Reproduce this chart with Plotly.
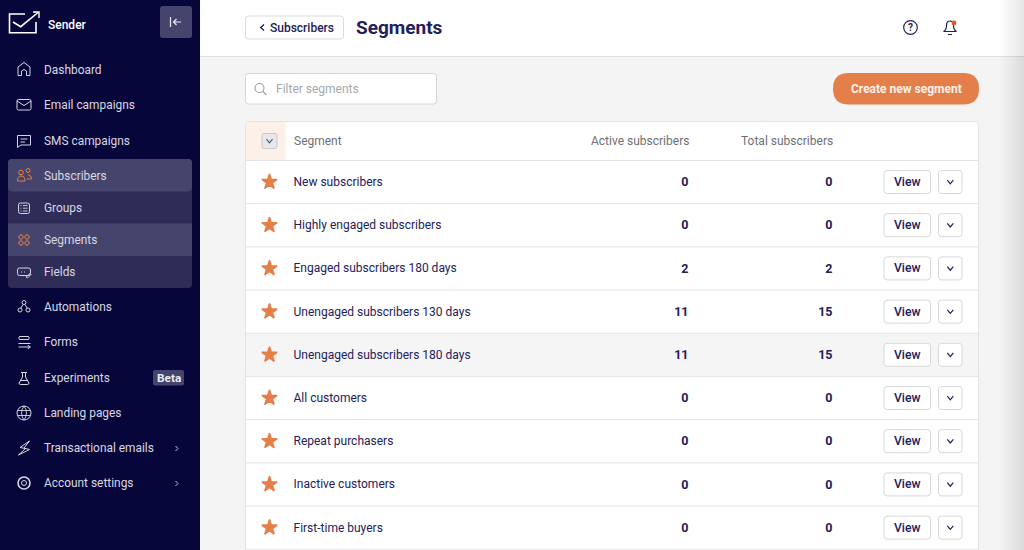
import plotly.graph_objects as go

# table data
segments = ["New subscribers", "Highly engaged subscribers", "Engaged subscribers 180 days",
            "Unengaged subscribers 130 days", "Unengaged subscribers 180 days", "All customers",
            "Repeat purchasers", "Inactive customers", "First-time buyers"]
active = [0, 0, 2, 11, 11, 0, 0, 0, 0]
total = [0, 0, 2, 15, 15, 0, 0, 0, 0]

# sidebar data
menu_labels = ["Dashboard", "Email campaigns", "SMS campaigns", "Subscribers", "Groups", "Segments",
               "Fields", "Automations", "Forms", "Experiments", "Landing pages",
               "Transactional emails", "Account settings"]
menu_y = [70, 105, 140.5, 175.5, 207.5, 239.5, 272, 307, 342, 377.5, 412.5, 448, 483]

NAVY = "#07063a"
INK = "#23215a"
ORANGE = "#e57f49"
FONT = "Roboto"

shapes = []
annotations = []


def rrect(x0, y0, x1, y1, r):
    return (f"M{x0+r},{y0} L{x1-r},{y0} Q{x1},{y0} {x1},{y0+r} L{x1},{y1-r} Q{x1},{y1} {x1-r},{y1} "
            f"L{x0+r},{y1} Q{x0},{y1} {x0},{y1-r} L{x0},{y0+r} Q{x0},{y0} {x0+r},{y0} Z")


def box(x0, y0, x1, y1, fill, line=None, r=0, lw=1):
    shapes.append(dict(type="path", path=rrect(x0, y0, x1, y1, r), fillcolor=fill,
                       line=dict(color=line or "rgba(0,0,0,0)", width=lw if line else 0)))


def stroke(path, color, lw=1.2, fill="rgba(0,0,0,0)"):
    shapes.append(dict(type="path", path=path, fillcolor=fill, line=dict(color=color, width=lw)))


def circle(cx, cy, r, color, lw=1.2, fill="rgba(0,0,0,0)"):
    shapes.append(dict(type="circle", x0=cx - r, x1=cx + r, y0=cy - r, y1=cy + r,
                       fillcolor=fill, line=dict(color=color, width=lw)))


def label(x, y, text, size=12, color=INK, anchor="left", weight=400):
    annotations.append(dict(x=x, y=y, text=text, showarrow=False, xanchor=anchor, yanchor="middle",
                            font=dict(family=FONT, size=size, color=color, weight=weight),
                            xref="x", yref="y", borderpad=0, borderwidth=0))


def chevron_down(cx, cy, color=INK, w=3.5):
    stroke(f"M{cx-w},{cy-1.8} L{cx},{cy+1.8} L{cx+w},{cy-1.8}", color, 1.2)


# page areas
box(0, 0, 1024, 550, "#f4f4f4")
box(200, 0, 1024, 56, "#ffffff")
shapes.append(dict(type="line", x0=200, x1=1024, y0=56.5, y1=56.5, line=dict(color="#e2e2e4", width=1)))
box(0, 0, 200, 550, NAVY)

# shade on the right edge
for k in range(12):
    box(1000 + k * 2, 0, 1024, 550, "rgba(0,0,0,0.008)")

# sidebar logo and collapse button
stroke("M25,14 L9.5,14 L9.5,32.7 L36,32.7 L36,22", "#ffffff", 1.6)
stroke("M13,22 L20.7,26.7 L38,12.5", "#ffffff", 1.6)
stroke("M33,12 L39,12 L39,18", "#ffffff", 1.4)
label(48, 24.5, "Sender", 12, "#ffffff", weight=500)
box(160, 6, 192, 38, "#45446c", None, 3)
stroke("M170.5,17 L170.5,27", "#e8e8ef", 1.2)
stroke("M181,22 L173.5,22 M176.5,19 L173.5,22 L176.5,25", "#e8e8ef", 1.2)

# sidebar selected group
box(8, 159, 192, 288, "#2f2d58", None, 4)
box(8, 159, 192, 191.5, "#45446c", None, 4)
box(8, 223.5, 192, 256, "#45446c")

# sidebar icons
MENU_ICON = "#d6d6e0"
stroke("M18,75.5 L18,67 L24,62.5 L30,67 L30,75.5 L26.5,75.5 L26.5,71 Q24,68 21.5,71 L21.5,75.5 Z", MENU_ICON, 1)
box(17, 99.5, 31, 110, "rgba(0,0,0,0)", MENU_ICON, 1.5)
stroke("M17,101 L24,105.5 L31,101", MENU_ICON, 1)
stroke("M17.5,135.5 L30.5,135.5 L30.5,145 L21,145 L17.5,147.5 Z M20.5,139 L27.5,139 M20.5,142 L25,142", MENU_ICON, 1)
circle(21, 172.5, 2.3, ORANGE, 1)
circle(28, 170.5, 2, ORANGE, 1)
stroke("M17.5,181 Q17.5,176 21,176 Q25,176 25,181 Z M28,174.5 Q31.5,175 31.5,179 L27,179", ORANGE, 1)
box(18.5, 203, 29.5, 213.5, "rgba(0,0,0,0)", MENU_ICON, 2)
stroke("M20.5,205.5 L21.5,205.5 M23,205.5 L27.5,205.5 M20.5,208.2 L21.5,208.2 M23,208.2 L27.5,208.2 M20.5,211 L21.5,211 M23,211 L27.5,211", MENU_ICON, 0.9)
for cx in (21, 27):
    for cy in (237, 243):
        circle(cx, cy, 2.2, ORANGE, 1)
box(17.5, 268, 30.5, 275.5, "rgba(0,0,0,0)", MENU_ICON, 2)
stroke("M21,272 L22,272 M24,272 L25,272 M26,277 L30,273.5 L31,274.5 L27.5,278 Z", MENU_ICON, 0.9)
circle(24, 302.5, 2, MENU_ICON, 1)
circle(20, 310, 2, MENU_ICON, 1)
circle(28, 310, 2, MENU_ICON, 1)
stroke("M23,304.5 L21,308 M25,304.5 L27,308", MENU_ICON, 1)
stroke("M19.5,336.5 L28.5,336.5 Q30,338 28.5,339.5 L19.5,339.5 Q18,338 19.5,336.5 M18.5,343.5 L30.5,343.5 M18.5,347 L27,347 M28,345.5 L30.5,347 L28,348.5 Z", MENU_ICON, 1)
stroke("M21,372.5 L27,372.5 M22.5,372.5 L22.5,377 L19,383 Q19,384.5 20.5,384.5 L27.5,384.5 Q29,384.5 29,383 L25.5,377 L25.5,372.5 M20.5,380.5 L27.5,380.5", MENU_ICON, 1)
circle(24, 413, 7, MENU_ICON, 1)
stroke("M24,406 Q19,413 24,420 Q29,413 24,406 M17.5,410.5 L30.5,410.5 M17.5,415.5 L30.5,415.5", MENU_ICON, 0.9)
stroke("M29.5,441 L20,447.5 L25.5,448.5 L18.5,455 L29.5,449.5 L24,448 Z", MENU_ICON, 1)
circle(24, 483, 2.5, MENU_ICON, 1)
circle(24, 483, 6, MENU_ICON, 1.6)

# sidebar texts
for name, y in zip(menu_labels, menu_y):
    label(44, y, name, 11.9, "#d8d8e2")
box(153, 370, 184, 385.5, "#45446c", None, 2)
label(168.5, 378, "Beta", 11.8, "#ededf3", "center", 700)
stroke("M175.5,446 L178,448.5 L175.5,451", "#c8c8d4", 1)
stroke("M175.5,481 L178,483.5 L175.5,486", "#c8c8d4", 1)

# page header
box(245.5, 16, 343.5, 39, "#ffffff", "#dcdcdf", 3)
stroke("M264,24.5 L260.7,27.5 L264,30.5", INK, 1.4)
label(269.5, 27.5, "Subscribers", 12, INK, weight=500)
label(356, 27.5, "Segments", 19, INK, weight=700)

circle(910.5, 27.5, 6.8, INK, 1.2)
label(910.5, 27.5, "?", 10, INK, "center", 700)
stroke("M943.5,31.5 Q946.5,30 946.5,25.5 Q946.5,21 950,21 Q953.5,21 953.5,25.5 Q953.5,30 956.5,31.5 Z M948,34.5 L952,34.5", INK, 1.2)
circle(954, 23, 2.4, "#ea4f3d", 0, "#ea4f3d")

# filter and create button
box(245.5, 73.5, 436.5, 104, "#ffffff", "#d6d6d9", 3)
circle(259.5, 88, 4.5, "#9a9aa0", 1.1)
stroke("M262.8,91.5 L266.5,95", "#9a9aa0", 1.1)
label(276, 88.5, "Filter segments", 12, "#a8a8ac")
box(833, 73, 979, 104.5, ORANGE, None, 15.7)
label(906, 88.5, "Create new segment", 12, "#fbf2ec", "center", 700)

# table frame and header
box(245.5, 121.5, 978.5, 560, "#ffffff", "#e4e4e6", 3)
box(246, 122, 285.5, 160, "#fcf0e9")
box(262, 133.5, 277, 148.5, "#e8e8ea", "#c8c8cc", 2)
chevron_down(269.5, 141, "#55556b", 3)
label(293.5, 140.5, "Segment", 12, "#6f6f75")
label(688.5, 140.5, "Active subscribers", 12, "#6f6f75", "right")
label(832.5, 140.5, "Total subscribers", 12, "#6f6f75", "right")
shapes.append(dict(type="line", x0=246, x1=978, y0=160.5, y1=160.5, line=dict(color="#e4e4e6", width=1)))

# rows
row_h = 43.2
row_y = [182 + i * row_h for i in range(len(segments))]
text_y = [y + 1 for y in row_y]
box(246, row_y[4] - row_h / 2, 978, row_y[4] + row_h / 2, "#f5f5f5")
for y in row_y:
    shapes.append(dict(type="line", x0=246, x1=978, y0=y + row_h / 2, y1=y + row_h / 2,
                       line=dict(color="#e4e4e6", width=1)))
    box(884, y - 11.5, 930.5, y + 11.5, "#ffffff", "#d8d8db", 3)
    box(938.5, y - 11.5, 962, y + 11.5, "#ffffff", "#d8d8db", 3)
    chevron_down(950.3, y, INK, 3)

fig = go.Figure()
# stars
fig.add_trace(go.Scatter(x=[269.5] * len(segments), y=row_y, mode="markers", hoverinfo="skip",
                         marker=dict(symbol="star", size=11.5, color=ORANGE, line=dict(width=1.5, color=ORANGE))))
# table cells
cell_font = dict(family=FONT, size=12, color=INK)
fig.add_trace(go.Scatter(x=[293.5] * len(segments), y=text_y, mode="text", text=segments,
                         textposition="middle right", textfont=cell_font, hoverinfo="skip"))
num_font = dict(family=FONT, size=12.5, color=INK, weight=700)
fig.add_trace(go.Scatter(x=[688.5] * len(segments), y=text_y, mode="text", text=[str(v) for v in active],
                         textposition="middle left", textfont=num_font, hoverinfo="skip"))
fig.add_trace(go.Scatter(x=[832.5] * len(segments), y=text_y, mode="text", text=[str(v) for v in total],
                         textposition="middle left", textfont=num_font, hoverinfo="skip"))
fig.add_trace(go.Scatter(x=[907.2] * len(segments), y=text_y, mode="text", text=["View"] * len(segments),
                         textposition="middle center",
                         textfont=dict(family=FONT, size=12.2, color=INK, weight=500), hoverinfo="skip"))

fig.update_layout(
    width=1024, height=550, margin=dict(l=0, r=0, t=0, b=0), showlegend=False,
    paper_bgcolor="#f4f4f4", plot_bgcolor="rgba(0,0,0,0)",
    xaxis=dict(range=[0, 1024], visible=False, fixedrange=True),
    yaxis=dict(range=[550, 0], visible=False, fixedrange=True),
    shapes=[dict(s, layer="below", xref="x", yref="y") for s in shapes],
    annotations=annotations,
)
# page default margin would push the picture 8px off
fig.write_html("out.html", config=dict(displayModeBar=False),
               post_script="document.body.style.margin='0';document.documentElement.style.overflow='hidden';")
